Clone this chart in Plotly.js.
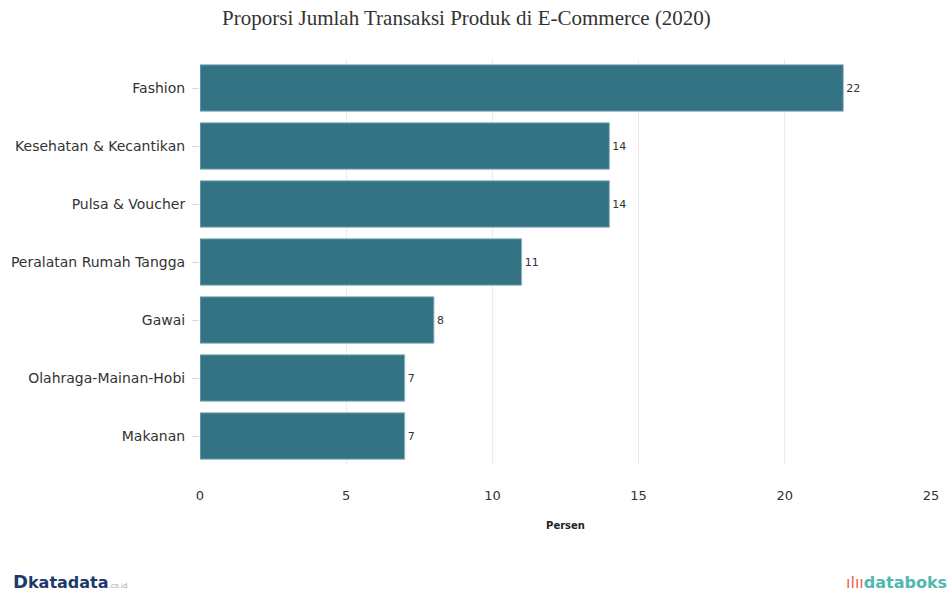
<!DOCTYPE html>
<html>
<head>
<meta charset="utf-8">
<script src="https://cdn.plot.ly/plotly-3.0.1.min.js"></script>
<style>html,body{margin:0;padding:0;background:#fff;}#chart{width:952px;height:595px;}</style>
</head>
<body>
<div id="chart"></div>
<script>
const categories = ["Fashion", "Kesehatan & Kecantikan", "Pulsa & Voucher", "Peralatan Rumah Tangga", "Gawai", "Olahraga-Mainan-Hobi", "Makanan"];
const values = [22, 14, 14, 11, 8, 7, 7];
const xTicks = [0, 5, 10, 15, 20, 25];

const trace = {
  type: "bar",
  orientation: "h",
  y: categories,
  x: values,
  text: values.map(String),
  textposition: "outside",
  cliponaxis: false,
  textfont: {family: "DejaVu Sans, Verdana, sans-serif", size: 11, color: "#333"},
  marker: {color: "rgb(46,111,128)", opacity: 0.97, line: {color: "rgba(140,180,195,0.9)", width: 1}},
  width: 0.8,
  hoverinfo: "x+y"
};

const layout = {
  width: 952, height: 595,
  margin: {l: 200, r: 21, t: 59, b: 130},
  paper_bgcolor: "#fff", plot_bgcolor: "#fff",
  title: {text: "Proporsi Jumlah Transaksi Produk di E-Commerce (2020)", font: {family: "Liberation Serif, Times New Roman, serif", size: 21, color: "#333"}, x: 0.49, xanchor: "center", y: 0.982, yanchor: "top"},
  xaxis: {
    range: [0, 25], tickvals: xTicks, ticktext: xTicks.map(String),
    showgrid: true, gridcolor: "#ececec", zeroline: false, showline: false,
    ticks: "outside", ticklen: 18, tickcolor: "rgba(255,255,255,0)",
    tickfont: {family: "DejaVu Sans, Verdana, sans-serif", size: 13, color: "#333"},
    title: {text: "<b>Persen</b>", font: {family: "DejaVu Sans, Verdana, sans-serif", size: 10, color: "#222"}, standoff: 20}
  },
  yaxis: {
    autorange: "reversed", type: "category",
    showgrid: false, zeroline: false, showline: false,
    ticks: "outside", ticklen: 7, tickcolor: "#d8d8d8",
    ticklabelstandoff: 4,
    tickfont: {family: "DejaVu Sans, Verdana, sans-serif", size: 14, color: "#333"}
  },
  bargap: 0.2,
  showlegend: false,
  annotations: [
    {xref: "paper", yref: "paper", x: -0.258, y: -0.318, xanchor: "left", yanchor: "bottom", showarrow: false,
     text: "<b><span style='color:#1d3a6b;font-size:18px'>D</span></b><b><span style='color:#1d3a6b'>katadata</span></b><span style='color:#9aa;font-size:7px'>.co.id</span>",
     font: {family: "DejaVu Sans, sans-serif", size: 16, color: "#1d3a6b"}},
    {xref: "paper", yref: "paper", x: 1.024, y: -0.318, xanchor: "right", yanchor: "bottom", showarrow: false,
     text: "<span style='color:#e8684a'>ılıı</span><b>databoks</b>",
     font: {family: "DejaVu Sans, sans-serif", size: 16, color: "#4fb8b0"}}
  ]
};

Plotly.newPlot("chart", [trace], layout, {displayModeBar: false, staticPlot: true});
</script>
</body>
</html>
